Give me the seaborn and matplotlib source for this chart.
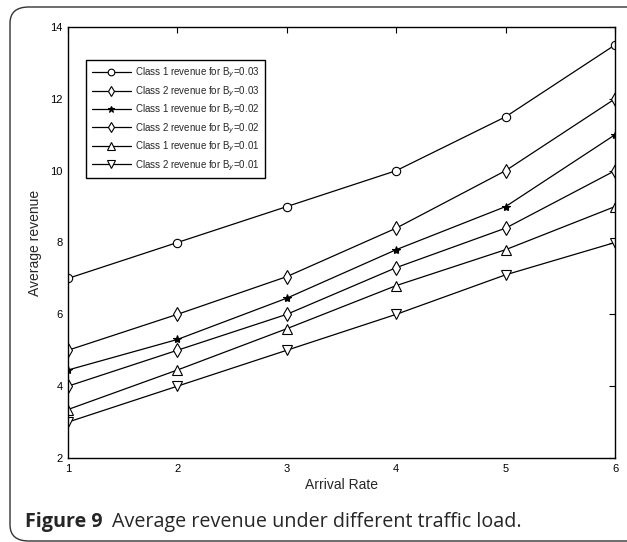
import numpy as np
import pandas as pd
import seaborn as sns
import matplotlib.pyplot as plt
from matplotlib.patches import FancyBboxPatch

# dati
arrival_rate = [1, 2, 3, 4, 5, 6]
c1_b003 = [7.0, 8.0, 9.0, 10.0, 11.5, 13.5]
c2_b003 = [5.0, 6.0, 7.05, 8.4, 10.0, 12.0]
c1_b002 = [4.45, 5.3, 6.45, 7.8, 9.0, 11.0]
c2_b002 = [4.0, 5.0, 6.0, 7.3, 8.4, 10.0]
c1_b001 = [3.35, 4.45, 5.6, 6.8, 7.8, 9.0]
c2_b001 = [3.0, 4.0, 5.0, 6.0, 7.1, 8.0]

labels = ["Class 1 revenue for B$_y$=0.03", "Class 2 revenue for B$_y$=0.03",
          "Class 1 revenue for B$_y$=0.02", "Class 2 revenue for B$_y$=0.02",
          "Class 1 revenue for B$_y$=0.01", "Class 2 revenue for B$_y$=0.01"]
series = [c1_b003, c2_b003, c1_b002, c2_b002, c1_b001, c2_b001]
markers = ['o', 'd', '*', 'd', '^', 'v']
msizes = [6, 7, 6, 7, 6.5, 6.5]

sns.set_style("white")
plt.rcParams['font.family'] = ['Liberation Sans', 'DejaVu Sans']

fig = plt.figure(figsize=(6.27, 5.42), dpi=100)
ax = fig.add_axes([68/627, 1-458/542, (615-68)/627, (458-27)/542])

for lab, vals, mk, ms in zip(labels, series, markers, msizes):
    df = pd.DataFrame({'rate': arrival_rate, 'rev': vals})
    sns.lineplot(data=df, x='rate', y='rev', ax=ax, color='black', lw=0.9,
                 marker=mk, markersize=ms,
                 markerfacecolor='white' if mk != '*' else 'black',
                 markeredgecolor='black', markeredgewidth=0.8, label=lab)

ax.set_xlim(1, 6)
ax.set_ylim(2, 14)
ax.set_xticks(arrival_rate)
ax.set_yticks(np.arange(2, 15, 2))
ax.tick_params(direction='in', top=True, right=True, length=4, width=0.8,
               labelsize=8, colors='black', pad=4)
for s in ax.spines.values():
    s.set_color('black')
    s.set_linewidth(1.0)
ax.set_xlabel("Arrival Rate", fontsize=10, labelpad=3)
ax.set_ylabel("Average revenue", fontsize=10, labelpad=6)

leg = ax.legend(loc='upper left', bbox_to_anchor=(0.033, 0.923), fontsize=7,
                frameon=True, fancybox=False, edgecolor='black', framealpha=1,
                borderpad=0.58, labelspacing=0.42, handlelength=4.0,
                handletextpad=0.45, markerscale=0.8, borderaxespad=0)
leg.get_frame().set_linewidth(1.0)

# cornice arrotondata e didascalia
box = FancyBboxPatch((10/627, 1/542), 700/627, 534/542,
                     boxstyle="round,pad=0,rounding_size=0.03",
                     transform=fig.transFigure, fill=False, ec='#333333', lw=1.0)
fig.patches.append(box)
fig.text(25/627, 1-527/542, "Figure 9", fontsize=14.2, fontweight='bold',
         family='Open Sans', va='baseline')
fig.text(112/627, 1-527/542, "Average revenue under different traffic load.",
         fontsize=14.2, family='Open Sans', va='baseline')

fig.savefig("out.png", dpi=100)
